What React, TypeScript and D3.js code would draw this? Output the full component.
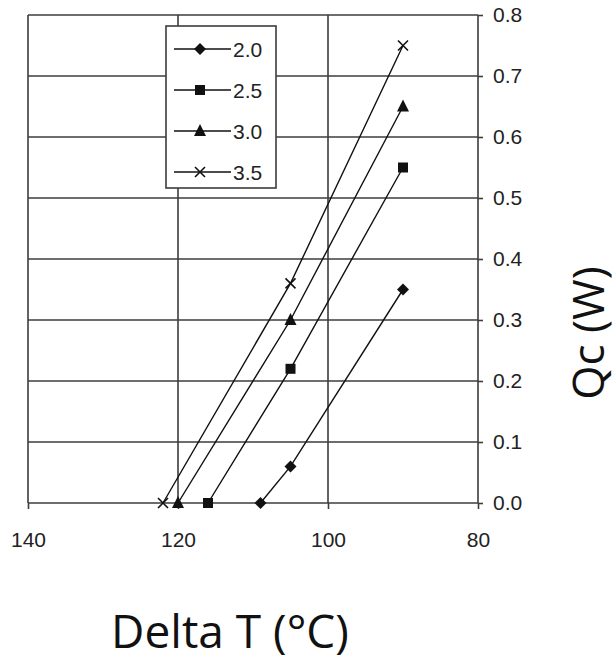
import React, { useEffect, useRef } from 'react';
import * as d3 from 'd3';

// Delta T values (x) for each series
const deltaT20 = [109, 105, 90];
const deltaT25 = [116, 105, 90];
const deltaT30 = [120, 105, 90];
const deltaT35 = [122, 105, 90];

// Qc (W) for each current
const qc20 = [0.0, 0.06, 0.35];
const qc25 = [0.0, 0.22, 0.55];
const qc30 = [0.0, 0.3, 0.65];
const qc35 = [0.0, 0.36, 0.75];

const seriesNames = ['2.0', '2.5', '3.0', '3.5'];
const xTicks = [140, 120, 100, 80];
const yTicks = [0, 0.1, 0.2, 0.3, 0.4, 0.5, 0.6, 0.7, 0.8];

export default function App() {
  const ref = useRef<SVGSVGElement>(null);

  useEffect(() => {
    const svg = d3.select(ref.current);
    svg.selectAll('*').remove();

    const left = 28, right = 478, top = 15, bottom = 503;
    const x = d3.scaleLinear().domain([140, 80]).range([left, right]);
    const y = d3.scaleLinear().domain([0, 0.8]).range([bottom, top]);

    const grid = '#3c3c3c';
    const txt = '#222';

    // gridlines
    svg.append('g')
      .selectAll('line')
      .data(yTicks)
      .enter()
      .append('line')
      .attr('x1', left).attr('x2', right)
      .attr('y1', d => y(d)).attr('y2', d => y(d))
      .attr('stroke', grid).attr('stroke-width', 1.6);

    svg.append('g')
      .selectAll('line')
      .data(xTicks)
      .enter()
      .append('line')
      .attr('x1', d => x(d)).attr('x2', d => x(d))
      .attr('y1', top).attr('y2', bottom)
      .attr('stroke', grid).attr('stroke-width', 1.6);

    // axes
    const xAxis = svg.append('g')
      .attr('transform', 'translate(0,' + bottom + ')')
      .call(d3.axisBottom(x).tickValues(xTicks).tickSize(6).tickPadding(23).tickFormat(d3.format('d')));
    const yAxis = svg.append('g')
      .attr('transform', 'translate(' + right + ',0)')
      .call(d3.axisRight(y).tickValues(yTicks).tickSize(5).tickPadding(10).tickFormat(d3.format('.1f')));

    [xAxis, yAxis].forEach(a => {
      a.select('.domain').remove();
      a.selectAll('line').attr('stroke', grid).attr('stroke-width', 1.6);
      a.selectAll('text')
        .attr('fill', txt)
        .style('font-family', 'Liberation Sans, Arial, sans-serif')
        .style('font-size', '21px');
    });

    const series = [
      { name: seriesNames[0], xs: deltaT20, ys: qc20, shape: 'diamond' },
      { name: seriesNames[1], xs: deltaT25, ys: qc25, shape: 'square' },
      { name: seriesNames[2], xs: deltaT30, ys: qc30, shape: 'triangle' },
      { name: seriesNames[3], xs: deltaT35, ys: qc35, shape: 'x' },
    ];

    const drawMarker = (g: any, shape: string, cx: number, cy: number) => {
      if (shape === 'diamond') {
        g.append('path')
          .attr('d', `M${cx},${cy - 6}L${cx + 6},${cy}L${cx},${cy + 6}L${cx - 6},${cy}Z`)
          .attr('fill', '#111');
      } else if (shape === 'square') {
        g.append('rect')
          .attr('x', cx - 5).attr('y', cy - 5)
          .attr('width', 10).attr('height', 10)
          .attr('fill', '#111');
      } else if (shape === 'triangle') {
        g.append('path')
          .attr('d', `M${cx},${cy - 7}L${cx + 6},${cy + 5}L${cx - 6},${cy + 5}Z`)
          .attr('fill', '#111');
      } else {
        g.append('path')
          .attr('d', `M${cx - 5},${cy - 5}L${cx + 5},${cy + 5}M${cx - 5},${cy + 5}L${cx + 5},${cy - 5}`)
          .attr('stroke', '#111').attr('stroke-width', 1.6).attr('fill', 'none');
      }
    };

    const line = d3.line<[number, number]>()
      .x(d => x(d[0]))
      .y(d => y(d[1]));

    series.forEach(s => {
      const pts = s.xs.map((v, i) => [v, s.ys[i]] as [number, number]);
      const g = svg.append('g');
      g.append('path')
        .attr('d', line(pts))
        .attr('fill', 'none')
        .attr('stroke', '#111')
        .attr('stroke-width', 1.4);
      pts.forEach(p => drawMarker(g, s.shape, x(p[0]), y(p[1])));
    });

    // legend
    const lg = svg.append('g');
    lg.append('rect')
      .attr('x', 166).attr('y', 26)
      .attr('width', 110).attr('height', 162)
      .attr('fill', '#fff')
      .attr('stroke', grid).attr('stroke-width', 1.6);

    series.forEach((s, i) => {
      const ly = 49 + i * 41;
      lg.append('line')
        .attr('x1', 174).attr('x2', 231)
        .attr('y1', ly).attr('y2', ly)
        .attr('stroke', '#111').attr('stroke-width', 1.4);
      drawMarker(lg, s.shape, 200, ly);
      lg.append('text')
        .attr('x', 233).attr('y', ly + 8)
        .attr('fill', txt)
        .style('font-family', 'Liberation Sans, Arial, sans-serif')
        .style('font-size', '21px')
        .text(s.name);
    });

    // axis titles
    svg.append('text')
      .attr('x', 230).attr('y', 648)
      .attr('text-anchor', 'middle')
      .attr('fill', '#111')
      .style('font-family', 'Open Sans, sans-serif')
      .style('font-size', '46px')
      .text('Delta T (°C)');

    svg.append('text')
      .attr('transform', 'translate(604,333) rotate(-90)')
      .attr('text-anchor', 'middle')
      .attr('fill', '#111')
      .style('font-family', 'Open Sans, sans-serif')
      .style('font-size', '44px')
      .text('Qc (W)');
  }, []);

  return (
    <svg
      ref={ref}
      width={616}
      height={661}
      style={{ position: 'absolute', left: 0, top: 0, background: '#fff' }}
    />
  );
}
